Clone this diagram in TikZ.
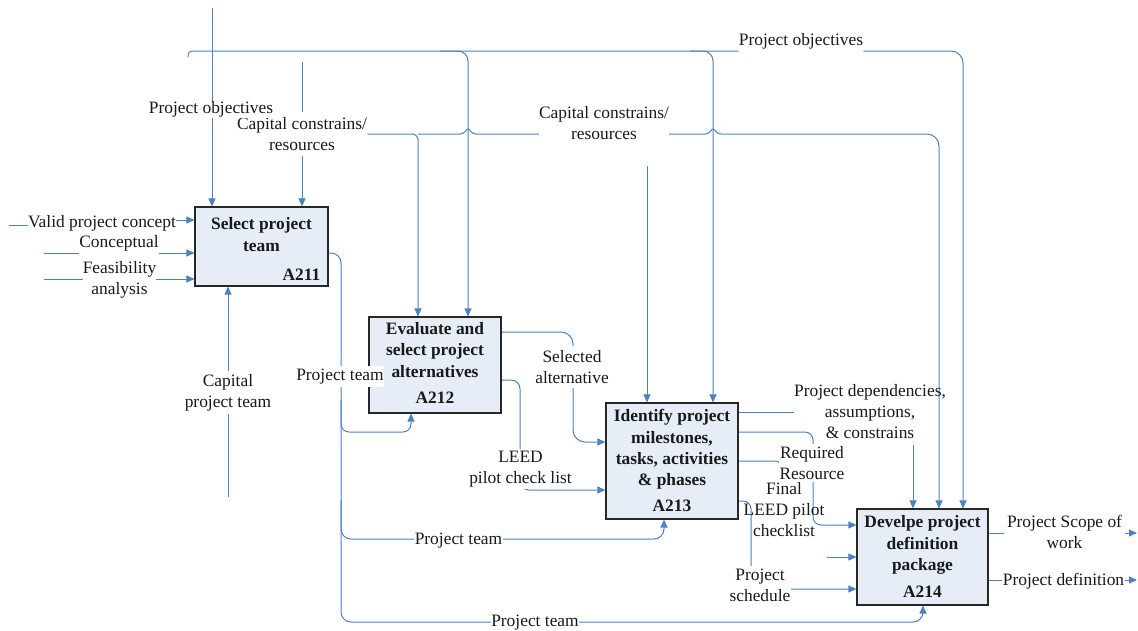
\documentclass[tikz,border=0pt]{standalone}
\usepackage{fontspec}
\setmainfont{Liberation Serif}
\usetikzlibrary{arrows.meta,backgrounds}
\definecolor{flowblue}{RGB}{79,129,189}
\definecolor{boxfill}{RGB}{231,237,247}
\definecolor{boxline}{RGB}{40,40,40}
\definecolor{inktext}{RGB}{25,25,25}
\tikzset{
  txt/.style={font=\fontsize{17.4}{21}\selectfont, text=inktext, align=center, inner xsep=0.5pt, inner ysep=2pt},
  wtxt/.style={txt, fill=white},
  actbox/.style={draw=boxline, line width=1.1pt, fill=boxfill, inner sep=0pt},
  acttitle/.style={font=\fontsize{17.4}{21.3}\selectfont\bfseries, text=inktext, align=center, inner sep=0pt},
  actid/.style={font=\fontsize{17.4}{21}\selectfont\bfseries, text=inktext, inner sep=0pt},
  flow/.style={draw=flowblue, line width=1pt},
  arr/.style={flow, -{Triangle[length=8pt,width=7pt]}},
}
\begin{document}
\begin{tikzpicture}[x=1pt,y=-1pt]
\useasboundingbox (0,0) rectangle (1138,630);

% activity boxes
\node[actbox, minimum width=133pt, minimum height=79pt] (A211) at (261.5,246.5) {};
\node[actbox, minimum width=132pt, minimum height=96pt] (A212) at (435,365) {};
\node[actbox, minimum width=132pt, minimum height=116pt] (A213) at (672,461) {};
\node[actbox, minimum width=131pt, minimum height=96pt] (A214) at (922.5,557) {};

% activity names and numbers
\node[acttitle] (t211) at (261.5,234.6) {Select project\\team};
\node[actid, anchor=east] (i211) at (320.5,275) {A211};
\node[acttitle] (t212) at (435,350) {Evaluate and\\select project\\alternatives};
\node[actid] (i212) at (435,398) {A212};
\node[acttitle] (t213) at (672,449.5) {Identify project\\milestones,\\tasks, activities\\\& phases};
\node[actid] (i213) at (672,506) {A213};
\node[acttitle] (t214) at (922.5,545) {Develpe project\\definition\\package};
\node[actid] (i214) at (922.5,592) {A214};

% arrow labels
\node[wtxt, inner ysep=5pt] (L2) at (302,134) {Capital constrains/\\resources};
\node[wtxt, inner ysep=0.5pt] (L1) at (211,109.5) {Project objectives};
\node[txt, inner xsep=0pt] (L3) at (801,41.5) {Project objectives};
\node[txt, inner xsep=0pt] (L4) at (604,123) {Capital constrains/\\resources};
\node[txt, inner xsep=0pt] (L5) at (102,223.5) {Valid project concept};
\node[txt, inner xsep=0pt] (L6) at (119,243.5) {Conceptual};
\node[wtxt, inner xsep=0pt, inner ysep=1pt] (L7) at (119.5,280) {Feasibility\\analysis};
\node[wtxt, inner ysep=3pt] (L8) at (228,392.5) {Capital\\project team};
\node[wtxt, inner ysep=3pt] (L9) at (340,376.5) {Project team};
\node[wtxt, inner ysep=3pt] (L10) at (458.5,540.5) {Project team};
\node[wtxt, inner ysep=2pt] (L11) at (535,622.5) {Project team};
\node[wtxt, inner ysep=4pt] (L12) at (572,367) {Selected\\alternative};
\node[wtxt, inner ysep=2pt] (L13) at (520.5,469) {LEED\\pilot check list};
\node[txt, inner xsep=0pt] (L14) at (870,412) {Project dependencies,\\assumptions,\\\& constrains};
\node[wtxt, inner ysep=2pt] (L15) at (812,463) {Required\\Resource};
\node[txt] (L16) at (784,510) {Final\\LEED pilot\\checklist};
\node[wtxt, inner ysep=3pt] (L17) at (760,585) {Project\\schedule};
\node[wtxt, inner xsep=3pt] (L18) at (1064.5,532) {Project Scope of\\work};
\node[wtxt, inner xsep=0.5pt] (L19) at (1063.5,581.5) {Project definition};

\begin{pgfonlayer}{background}
% project objectives
\draw[arr] (212,8) -- (A211.north -| 212,0);
\draw[flow, rounded corners=4pt] (188,57) -- (188,51) -- (L3.west |- 0,51);
\draw[arr, rounded corners=12pt] (L3.east |- 0,51) -- (963,51) -- (A214.north -| 963,0);
\draw[arr, rounded corners=10pt] (440,51) -- (468,51) -- (A212.north -| 468,0);
\draw[arr, rounded corners=10pt] (690,51) -- (713,51) -- (A213.north -| 713,0);

% capital constraints / resources
\draw[arr] (302,62) -- (A211.north -| 302,0);
\draw[arr, rounded corners=6pt] (L2.east |- 0,134) -- (418,134) -- (A212.north -| 418,0);
\draw[flow] (418,134) -- (460,134) .. controls (465,134) and (466,129) .. (468,129)
  .. controls (470,129) and (471,134) .. (476,134) -- (L4.west |- 0,134);
\draw[flow] (L4.east |- 0,134) -- (705,134) .. controls (710,134) and (711,129) .. (713,129)
  .. controls (715,129) and (716,134) .. (721,134);
\draw[arr, rounded corners=12pt] (721,134) -- (939,134) -- (A214.north -| 939,0);
\draw[arr] (647,166) -- (A213.north -| 647,0);

% inputs of A211
\draw[flow] (9,225) -- (L5.west |- 0,225);
\draw[arr] (L5.east |- 0,220) -- (A211.west |- 0,220);
\draw[flow] (44,253) -- (L6.west |- 0,253);
\draw[arr] (L6.east |- 0,253) -- (A211.west |- 0,253);
\draw[arr] (44,279) -- (A211.west |- 0,279);
\draw[arr] (228,497) -- (A211.south -| 228,0);

% project team feeds
\draw[arr, rounded corners=10pt] (A211.east |- 0,253) -- (341,253) -- (341,622) -- (923,622) -- (A214.south -| 923,0);
\draw[arr, rounded corners=8pt] (341,400) -- (341,432) -- (411,432) -- (A212.south -| 411,0);
\draw[arr, rounded corners=10pt] (341,500) -- (341,539) -- (664,539) -- (A213.south -| 664,0);

% outputs of A212
\draw[arr, rounded corners=12pt] (A212.east |- 0,332) -- (573,332) -- (573,442) -- (A213.west |- 0,442);
\draw[arr, rounded corners=9pt] (A212.east |- 0,380) -- (520,380) -- (520,490) -- (A213.west |- 0,490);

% outputs of A213
\draw[flow] (A213.east |- 0,412) -- (L14.west |- 0,412);
\draw[arr] (913,445) -- (A214.north -| 913,0);
\draw[arr, rounded corners=8pt] (A213.east |- 0,432) -- (813,432) -- (813,525) -- (A214.west |- 0,525);
\draw[flow, rounded corners=5pt] (A213.east |- 0,461) -- (781,461) -- (781,476);
\draw[arr, rounded corners=8pt] (A213.east |- 0,501) -- (751,501) -- (751,589) -- (A214.west |- 0,589);
\draw[arr] (827,557) -- (A214.west |- 0,557);

% outputs of A214
\draw[arr] (A214.east |- 0,533) -- (1137,533);
\draw[arr] (A214.east |- 0,580) -- (1137,580);
\end{pgfonlayer}
\end{tikzpicture}
\end{document}
